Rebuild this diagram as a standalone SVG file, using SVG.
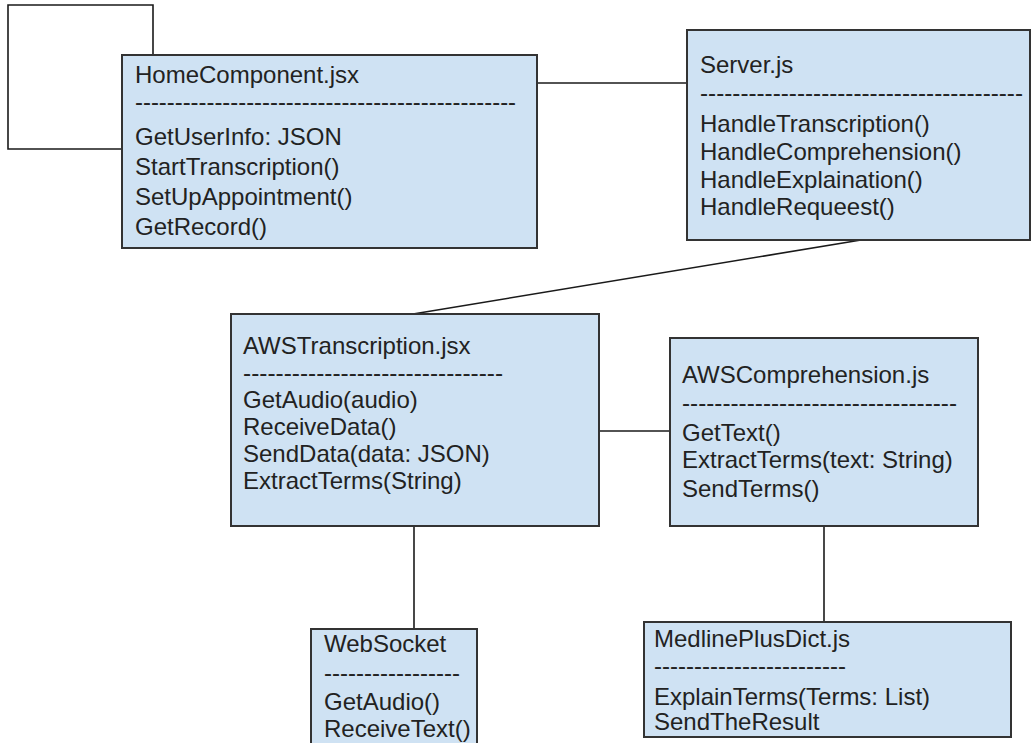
<svg xmlns="http://www.w3.org/2000/svg" width="1031" height="743" viewBox="0 0 1031 743">
<style>
.box{fill:#cfe2f3;stroke:#333;stroke-width:2}
.t{font-family:"Liberation Sans",Arial,sans-serif;font-size:24px;fill:#222}
.ln{fill:none;stroke:#1a1a1a;stroke-width:1.6}
</style>
<rect width="1031" height="743" fill="#fff"/>
<g id="connectors">
<path class="ln" d="M153,55 V5 H8 V149 H122"/>
<line class="ln" x1="537" y1="83" x2="687" y2="83"/>
<line class="ln" x1="861" y1="240" x2="413" y2="314"/>
<line class="ln" x1="599" y1="431" x2="670" y2="431"/>
<line class="ln" x1="414" y1="526" x2="414" y2="629"/>
<line class="ln" x1="824" y1="526" x2="824" y2="622"/>
</g>
<g id="home">
<rect class="box" x="122" y="55" width="415" height="193"/>
<text class="t" x="135" y="83">HomeComponent.jsx</text>
<text class="t" x="135" y="110" textLength="381" lengthAdjust="spacingAndGlyphs">------------------------------------------------</text>
<text class="t" x="135" y="145">GetUserInfo: JSON</text>
<text class="t" x="135" y="175">StartTranscription()</text>
<text class="t" x="135" y="205">SetUpAppointment()</text>
<text class="t" x="135" y="235">GetRecord()</text>
</g>
<g id="server">
<rect class="box" x="687" y="30" width="343" height="210"/>
<text class="t" x="700" y="73">Server.js</text>
<text class="t" x="700" y="101" textLength="323" lengthAdjust="spacingAndGlyphs">----------------------------------------</text>
<text class="t" x="700" y="132">HandleTranscription()</text>
<text class="t" x="700" y="160">HandleComprehension()</text>
<text class="t" x="700" y="188">HandleExplaination()</text>
<text class="t" x="700" y="215">HandleRequeest()</text>
</g>
<g id="awstranscription">
<rect class="box" x="231" y="314" width="368" height="212"/>
<text class="t" x="243" y="354">AWSTranscription.jsx</text>
<text class="t" x="243" y="381" textLength="260" lengthAdjust="spacingAndGlyphs">--------------------------------</text>
<text class="t" x="243" y="408">GetAudio(audio)</text>
<text class="t" x="243" y="435">ReceiveData()</text>
<text class="t" x="243" y="462">SendData(data: JSON)</text>
<text class="t" x="243" y="489">ExtractTerms(String)</text>
</g>
<g id="awscomprehension">
<rect class="box" x="670" y="338" width="308" height="188"/>
<text class="t" x="682" y="383">AWSComprehension.js</text>
<text class="t" x="682" y="411" textLength="275" lengthAdjust="spacingAndGlyphs">----------------------------------</text>
<text class="t" x="682" y="441">GetText()</text>
<text class="t" x="682" y="468">ExtractTerms(text: String)</text>
<text class="t" x="682" y="497">SendTerms()</text>
</g>
<g id="websocket">
<rect class="box" x="311" y="629" width="166" height="116"/>
<text class="t" x="324" y="652">WebSocket</text>
<text class="t" x="324" y="681" textLength="136" lengthAdjust="spacingAndGlyphs">-----------------</text>
<text class="t" x="324" y="710">GetAudio()</text>
<text class="t" x="324" y="737">ReceiveText()</text>
</g>
<g id="medlineplus">
<rect class="box" x="644" y="622" width="367" height="115"/>
<text class="t" x="654" y="647">MedlinePlusDict.js</text>
<text class="t" x="654" y="674" textLength="192" lengthAdjust="spacingAndGlyphs">------------------------</text>
<text class="t" x="654" y="705">ExplainTerms(Terms: List)</text>
<text class="t" x="654" y="730">SendTheResult</text>
</g>
</svg>
